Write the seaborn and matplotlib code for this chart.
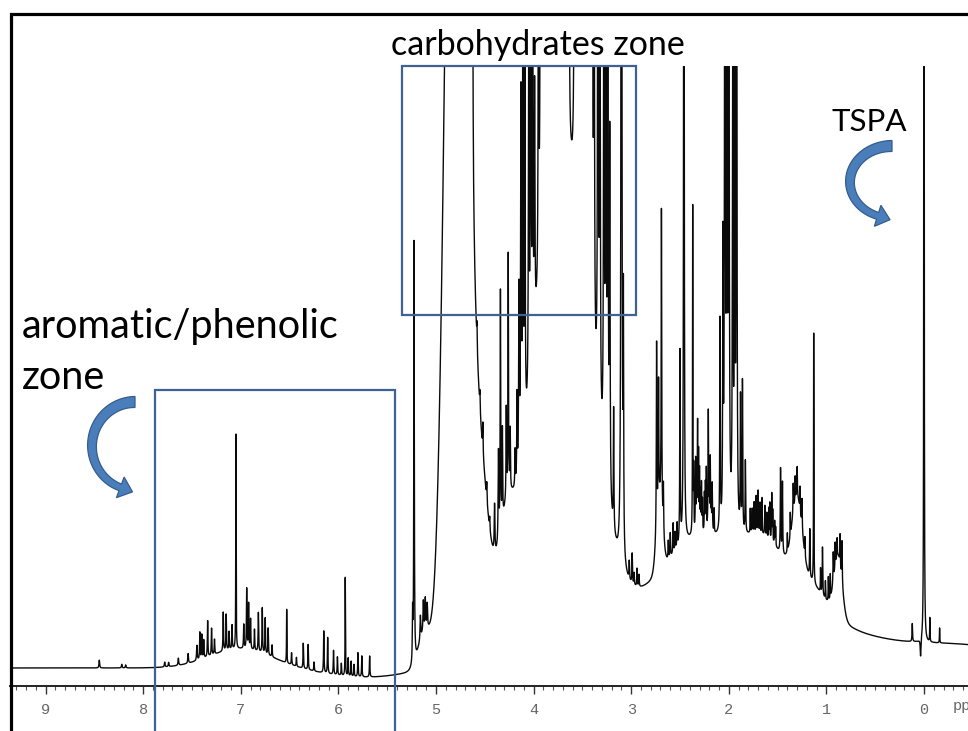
import numpy as np
import pandas as pd
import matplotlib
matplotlib.use("Agg")
import matplotlib.pyplot as plt
import seaborn as sns
from matplotlib.patches import Rectangle, Polygon
from matplotlib.transforms import blended_transform_factory

# ---------------- data ----------------
# broad components of the spectrum (Gaussian): centre ppm, height, sigma
broad_ppm = [7.00, 5.70, 4.79, 4.56, 4.28, 3.72, 2.10, 2.30, 1.65, 1.30, 1.20, 0.88, -0.50, 5.12, 2.71]
broad_height = [3.2, -1.6, 230, 31, 14, 78, 13, 9, 8, 12, 5, 10, 3, 6, 12]
broad_sigma = [0.32, 0.45, 0.095, 0.10, 0.08, 0.28, 1.10, 0.35, 0.20, 0.05, 0.20, 0.04, 0.60, 0.06, 0.03]

# sharp resonances (Lorentzian): position ppm, height, half width ppm
peak_ppm = [8.45, 8.22, 8.18, 7.78, 7.74, 7.64, 7.54, 7.45, 7.42, 7.40, 7.38, 7.34, 7.30, 7.27,
            7.18, 7.15, 7.12, 7.09, 7.05, 6.97, 6.94, 6.92, 6.90, 6.86, 6.82, 6.78, 6.75, 6.72,
            6.68, 6.53, 6.48, 6.43, 6.36, 6.31, 6.25, 6.15, 6.11, 6.05, 6.01, 5.97, 5.93, 5.90,
            5.87, 5.84, 5.80, 5.76, 5.68,
            5.24, 5.225, 5.16, 5.13, 5.11, 5.09, 4.66, 4.63,
            4.58, 4.55, 4.52, 4.48, 4.45,
            4.40, 4.36, 4.34, 4.32, 4.28, 4.26, 4.24, 4.19, 4.17, 4.15, 4.13, 4.11, 4.09, 4.05,
            4.03, 4.01, 3.99, 3.95, 3.93, 3.91, 3.89,
            3.86, 3.84, 3.82, 3.80, 3.78, 3.76, 3.74, 3.72, 3.70, 3.68, 3.66, 3.64,
            3.58, 3.56, 3.54, 3.52, 3.50, 3.48, 3.46, 3.44, 3.42, 3.40, 3.38,
            3.34, 3.32, 3.28, 3.26, 3.24, 3.22, 3.18, 3.10, 3.08,
            3.02, 2.99, 2.97, 2.94, 2.92,
            2.74, 2.72, 2.69, 2.67, 2.62, 2.60, 2.57, 2.55, 2.53, 2.50, 2.46,
            2.37, 2.36, 2.34, 2.33, 2.32, 2.31, 2.30, 2.29, 2.28, 2.27, 2.25, 2.24, 2.23, 2.21,
            2.20, 2.19, 2.18, 2.17, 2.15,
            2.09, 2.06, 2.04, 2.02, 2.00, 1.96, 1.94, 1.92, 1.88, 1.86, 1.83,
            1.78, 1.76, 1.74, 1.72, 1.70, 1.68, 1.66, 1.63, 1.61, 1.59, 1.58, 1.56, 1.55, 1.53, 1.52,
            1.47, 1.45, 1.40, 1.37, 1.34, 1.32, 1.30, 1.27, 1.25, 1.22, 1.17, 1.13,
            1.06, 1.04, 1.01, 0.98, 0.96, 0.93, 0.91, 0.89, 0.86, 0.84,
            0.12, 0.035, 0.00, -0.06, -0.16]
peak_height = [1.3, 0.6, 0.5, 0.8, 0.7, 1.2, 1.6, 2.5, 4.5, 4.0, 3.0, 6.0, 4.5, 2.5,
               6.5, 6.0, 3.0, 4.0, 36, 4.0, 10, 7.5, 5.0, 3.5, 6.5, 7.5, 6.0, 4.5,
               2.0, 9.0, 2.0, 1.5, 4.2, 4.2, 1.5, 7.0, 6.0, 4.0, 3.0, 2.0, 16.5, 3.0,
               2.5, 2.0, 4.0, 3.5, 3.5,
               8, 70, 4, 5, 5, 4, 150, 150,
               4, 3, 5, 3, 2,
               8, 15, 40, 15, 15, 40, 10, 6, 14, 30, 60, 80, 60, 60,
               80, 60, 40, 60, 80, 100, 120,
               100, 120, 100, 120, 100, 120, 100, 100, 100, 80, 60, 80,
               100, 120, 100, 120, 100, 120, 100, 120, 100, 120, 80,
               150, 80, 100, 120, 100, 60, 20, 250, 40,
               3, 5, 2, 3, 2,
               31, 20, 50, 8, 3, 4, 5, 3, 4, 32, 200,
               55, 10, 12, 8, 18, 12, 10, 6, 8, 5, 6, 8, 10, 20,
               8, 12, 6, 8, 4,
               35, 45, 150, 100, 150, 80, 80, 200, 22, 25, 12,
               4, 4, 5, 6, 7, 5, 6, 5, 4, 5, 6, 8, 5, 4, 3,
               14, 12, 3, 4, 5, 4, 5, 4, 5, 3, 8, 42,
               4, 8, 3, 4, 4, 5, 4, 3, 5, 7,
               3, -3, 400, 4, 2.5]
peak_width = [0.004, 0.004, 0.004, 0.004, 0.004, 0.004, 0.004, 0.004, 0.003, 0.003, 0.003, 0.003, 0.003, 0.003,
              0.003, 0.003, 0.003, 0.003, 0.002, 0.003, 0.003, 0.003, 0.003, 0.003, 0.003, 0.003, 0.003, 0.003,
              0.003, 0.002, 0.003, 0.003, 0.003, 0.003, 0.003, 0.003, 0.003, 0.003, 0.003, 0.003, 0.002, 0.003,
              0.003, 0.003, 0.003, 0.003, 0.003,
              0.003, 0.003, 0.004, 0.004, 0.004, 0.004, 0.004, 0.004,
              0.003, 0.003, 0.003, 0.003, 0.003,
              0.004, 0.004, 0.003, 0.003, 0.003, 0.003, 0.003, 0.003, 0.003, 0.004, 0.004, 0.004, 0.004, 0.004,
              0.004, 0.004, 0.004, 0.004, 0.004, 0.005, 0.005,
              0.006, 0.006, 0.006, 0.006, 0.006, 0.006, 0.006, 0.006, 0.006, 0.006, 0.006, 0.004,
              0.004, 0.006, 0.006, 0.006, 0.006, 0.006, 0.006, 0.006, 0.006, 0.005, 0.004,
              0.004, 0.004, 0.004, 0.004, 0.004, 0.004, 0.003, 0.004, 0.003,
              0.003, 0.003, 0.003, 0.003, 0.003,
              0.003, 0.003, 0.003, 0.003, 0.003, 0.003, 0.003, 0.003, 0.003, 0.003, 0.003,
              0.002, 0.002, 0.003, 0.002, 0.003, 0.002, 0.003, 0.002, 0.003, 0.002, 0.002, 0.003, 0.002, 0.003,
              0.002, 0.003, 0.002, 0.003, 0.002,
              0.003, 0.003, 0.004, 0.004, 0.004, 0.004, 0.004, 0.003, 0.003, 0.003, 0.003,
              0.002, 0.003, 0.002, 0.002, 0.003, 0.002, 0.002, 0.003, 0.002, 0.002, 0.002, 0.003, 0.002, 0.003, 0.002,
              0.003, 0.003, 0.002, 0.002, 0.003, 0.002, 0.003, 0.002, 0.003, 0.002, 0.003, 0.002,
              0.002, 0.003, 0.002, 0.002, 0.002, 0.003, 0.002, 0.002, 0.002, 0.003,
              0.003, 0.004, 0.0015, 0.002, 0.002]

tick_values = [9, 8, 7, 6, 5, 4, 3, 2, 1, 0]
tick_labels = ["9", "8", "7", "6", "5", "4", "3", "2", "1", "0"]

zone_labels = ["aromatic/phenolic\nzone", "carbohydrates zone", "TSPA"]
aromatic_zone = (7.88, 5.42)
carbo_zone = (5.35, 2.95)

# ---------------- figure ----------------
sns.set_theme(style="white")
plt.rcParams['font.family'] = ['Lato', 'DejaVu Sans']

W, H = 968, 731
fig = plt.figure(figsize=(W / 100, H / 100), dpi=100)


def fx(px):
    return px / W


def fy(py):
    return 1 - py / H


ax = fig.add_axes([fx(10), fy(686), fx(968) - fx(10), fy(66) - fy(686)])
ax.patch.set_alpha(0)

x_left, x_right = 9.365, -0.451
ppm = np.arange(x_left, x_right, -0.0004)
inten = np.zeros_like(ppm)
for c, h, s in zip(broad_ppm, broad_height, broad_sigma):
    inten += h * np.exp(-0.5 * ((ppm - c) / s) ** 2)
for c, h, g in zip(peak_ppm, peak_height, peak_width):
    inten += h * g ** 2 / ((ppm - c) ** 2 + g ** 2)

df = pd.DataFrame({"ppm": ppm, "intensity": inten})
sns.lineplot(data=df, x="ppm", y="intensity", ax=ax, color="#0a0a0a",
             lw=1.0, estimator=None, sort=False)

ax.set_xlim(x_left, x_right)
ax.set_ylim(-2.99, 100)
ax.set_xlabel("")
ax.set_ylabel("")
ax.set_yticks([])
for s in ["top", "left", "right"]:
    ax.spines[s].set_visible(False)
ax.spines["bottom"].set_color("#222222")
ax.spines["bottom"].set_linewidth(1.4)
ax.set_xticks(tick_values)
ax.set_xticklabels(tick_labels, fontfamily="Liberation Mono", fontsize=11, color="#666666")
ax.xaxis.set_minor_locator(matplotlib.ticker.MultipleLocator(0.1))
ax.tick_params(axis="x", which="major", direction="out", length=6, width=1.0,
               color="#333333", pad=6, bottom=True)
ax.tick_params(axis="x", which="minor", direction="out", length=3, width=0.8,
               color="#555555", bottom=True)
fig.text(fx(953), fy(706), "ppm", fontfamily="Liberation Mono", fontsize=11,
         color="#666666", ha="left", va="center")

# black frame (cropped slide)
fig.add_artist(Rectangle((fx(11), fy(760)), 1.2, fy(14) - fy(760),
                         transform=fig.transFigure, fill=False, ec="black", lw=2.3))

# zone boxes
BLUE = "#3E6293"
trans = blended_transform_factory(ax.transData, fig.transFigure)
fig.add_artist(Rectangle((aromatic_zone[1], fy(760)), aromatic_zone[0] - aromatic_zone[1],
                         fy(390) - fy(760), transform=trans, fill=False, ec=BLUE, lw=1.6))
fig.add_artist(Rectangle((carbo_zone[1], fy(315)), carbo_zone[0] - carbo_zone[1],
                         fy(66) - fy(315), transform=trans, fill=False, ec=BLUE, lw=1.6))

# labels
fig.text(fx(22), fy(338), "aromatic/phenolic", fontsize=28.5, color="black", ha="left", va="baseline")
fig.text(fx(22), fy(389), "zone", fontsize=28.5, color="black", ha="left", va="baseline")
fig.text(fx(538), fy(55), zone_labels[1], fontsize=24.5, color="black", ha="center", va="baseline")
fig.text(fx(869), fy(131), zone_labels[2], fontsize=22.5, color="black", ha="center", va="baseline")


# curved arrows
def curved_arrow(cx, cy, rx, ry, th0, th1, w0, w1, head_len, head_w):
    th = np.radians(np.linspace(th0, th1, 80))
    xs = cx + rx * np.cos(th)
    ys = cy - ry * np.sin(th)
    tx = -rx * np.sin(th)
    ty = -ry * np.cos(th)
    nrm = np.hypot(tx, ty)
    tx, ty = tx / nrm, ty / nrm
    nx, ny = -ty, tx
    w = np.linspace(w0, w1, len(th)) / 2
    outer = np.column_stack([xs + nx * w, ys + ny * w])
    inner = np.column_stack([xs - nx * w, ys - ny * w])
    ex, ey = xs[-1], ys[-1]
    ux, uy = tx[-1], ty[-1]
    vx, vy = nx[-1], ny[-1]
    head = [(ex + vx * head_w / 2, ey + vy * head_w / 2),
            (ex + ux * head_len, ey + uy * head_len),
            (ex - vx * head_w / 2, ey - vy * head_w / 2)]
    pts = list(map(tuple, outer)) + head + list(map(tuple, inner[::-1]))
    return [(fx(px), fy(py)) for px, py in pts]


for spec in [(135, 446, 43, 44), (892, 182, 42, 36)]:
    pts = curved_arrow(*spec, 90, 250, 11, 7, 13, 22)
    fig.add_artist(Polygon(pts, closed=True, transform=fig.transFigure,
                           fc="#4A7EBB", ec="#365C8C", lw=0.9))

fig.savefig("out.png", dpi=100)
